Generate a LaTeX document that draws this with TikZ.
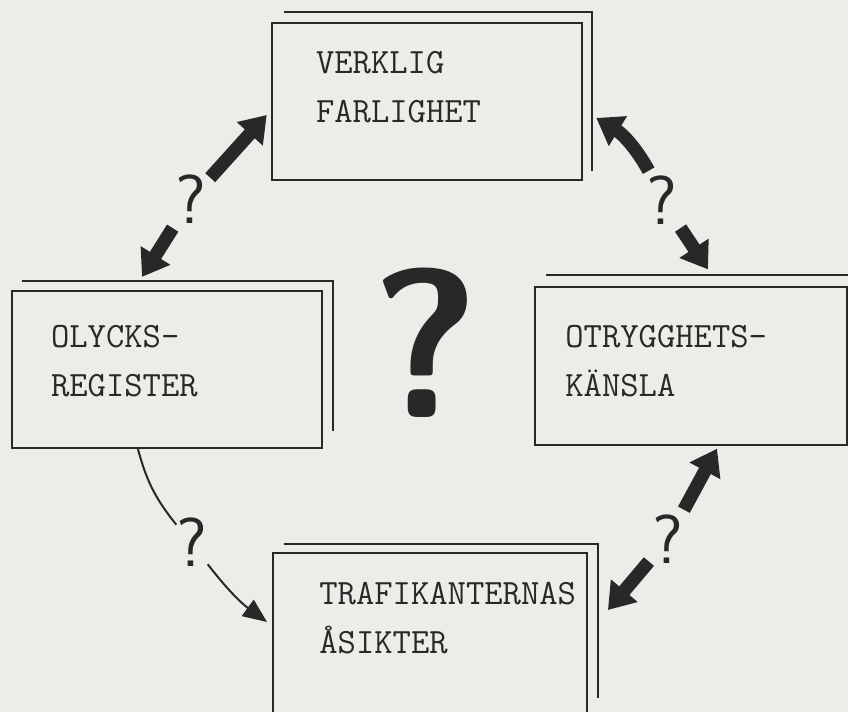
\documentclass[tikz,border=0pt]{standalone}
\usepackage{xcolor}
\usepackage{tikz}
\usetikzlibrary{arrows.meta,positioning}
\definecolor{papper}{RGB}{236,236,232}
\definecolor{svart}{RGB}{40,40,40}

\begin{document}
\begin{tikzpicture}[x=0.75pt, y=0.75pt, >={Triangle[length=19pt,width=25pt]},
    ruta/.style={draw=svart, line width=1.4pt, minimum width=233pt, minimum height=118pt, inner sep=0pt},
    skugga/.style={draw=svart, line width=1.4pt},
    etikett/.style={font=\fontsize{26.7}{36.75}\selectfont\ttfamily, text=svart, align=left, anchor=base west, inner sep=0pt},
    liten/.style={font=\fontsize{52}{52}\selectfont\sffamily, text=svart, inner sep=0pt},
    stor/.style={font=\fontsize{159}{159}\selectfont\sffamily\bfseries, text=svart, inner sep=0pt},
    blockpil/.style={draw=svart, line width=10pt, ->, shorten <=4pt},
    tunnpil/.style={draw=svart, line width=1.5pt}]

        \path[fill=papper, use as bounding box] (0,0) rectangle (848,-712);
        \clip (0,0) rectangle (848,-712);

        \node (verklig) [ruta] at (427,-101.5) {};
        \node (olycks) [ruta] at (167,-369.5) {};
        \node (otrygg) [ruta, minimum width=234pt] at (691,-366) {};
        \node (trafik) [ruta, minimum width=235.5pt, minimum height=124pt] at (430,-635.5) {};

        \draw [skugga] ([shift={(13,10)}]verklig.north west) -| ([shift={(9,10)}]verklig.south east);
        \draw [skugga] ([shift={(11,9)}]olycks.north west) -| ([shift={(10,18)}]olycks.south east);
        \draw [skugga] ([shift={(12,11)}]otrygg.north west) -| ([shift={(10,15)}]otrygg.south east);
        \draw [skugga] ([shift={(12,8)}]trafik.north west) -| ([shift={(10,21)}]trafik.south east);

        \node (t1) [etikett] at ([shift={(45,-101)}]verklig.north west) {VERKLIG\\FARLIGHET};
        \node (t2) [etikett] at ([shift={(40,-107)}]olycks.north west) {OLYCKS-\\REGISTER};
        \node (t3) [etikett] at ([shift={(31,-110)}]otrygg.north west) {OTRYGGHETS-\\KÄNSLA};
        \node (t4) [etikett] at ([shift={(47,-102)}]trafik.north west) {TRAFIKANTERNAS\\ÅSIKTER};

        \node (mitt) [stor] at (426,-343) {?};
        \node (f1) [liten] at (191,-199) {?};
        \node (f2) [liten] at (662,-200) {?};
        \node (f3) [liten] at (668,-539) {?};
        \node (f4) [liten] at (192,-542) {?};

        \draw [blockpil] (f1) -- ([shift={(-4,-13.5)}]verklig.west);
        \draw [blockpil] (f1) -- ([shift={(-25,13)}]olycks.north);
        \draw [blockpil] (f2) to [bend right=15] ([shift={(13,-16.5)}]verklig.east);
        \draw [blockpil] (f2) -- ([shift={(17,17)}]otrygg.north);
        \draw [blockpil] (f3) -- ([shift={(26,-3)}]otrygg.south);
        \draw [blockpil] (f3) -- ([shift={(20,25.5)}]trafik.east);

        \draw [tunnpil] ([shift={(-29,0)}]olycks.south) to [bend right=12] (f4);
        \draw [tunnpil, -{Triangle[length=18pt,width=15pt]}] (f4) to [bend right=8] ([shift={(-5,13.5)}]trafik.west);
    \end{tikzpicture}
\end{document}
